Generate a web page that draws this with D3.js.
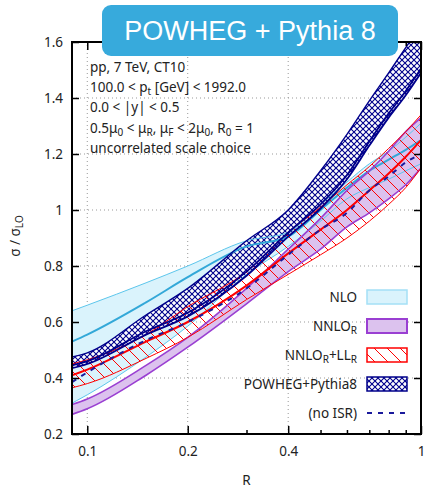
<!DOCTYPE html>
<html lang="en">
<head>
  <meta charset="UTF-8" />
  <title>POWHEG + Pythia 8</title>
  <style>
    body { margin: 0; background: #fff; }
    svg text { font-family: "Noto Sans", sans-serif; font-size: 13.5px; fill: #222; }
    .grid line { stroke: #999; stroke-width: 1; stroke-dasharray: 1,3; }
    .axis path { display: none; }
    .axis line { stroke: #000; stroke-width: 1.5px; }
    .title text { font-family: "Liberation Sans", Arial, sans-serif; font-size: 27px; fill: #fff; }
  </style>
  <script src="https://d3js.org/d3.v7.min.js"></script>
</head>
<body>
  <div id="chart"></div>
  <script type="text/javascript">
    // jet radius values
    const R = [0.09, 0.1, 0.15, 0.2, 0.3, 0.4, 0.5, 0.6, 0.7, 0.8, 0.9, 1.0];

    // NLO band
    const nloLo  = [0.31, 0.34, 0.475, 0.585, 0.77, 0.87, 0.96, 1.04, 1.08, 1.11, 1.14, 1.165];
    const nloMid = [0.53, 0.555, 0.67, 0.76, 0.87, 0.905, 1.0, 1.08, 1.14, 1.18, 1.215, 1.25];
    const nloHi  = [0.64, 0.66, 0.74, 0.80, 0.89, 0.92, 1.02, 1.10, 1.165, 1.21, 1.26, 1.31];

    // NNLO_R band
    const nnloLo = [0.27, 0.29, 0.41, 0.51, 0.665, 0.78, 0.86, 0.94, 0.99, 1.04, 1.09, 1.15];
    const nnloHi = [0.305, 0.325, 0.445, 0.545, 0.72, 0.86, 0.97, 1.07, 1.14, 1.21, 1.28, 1.33];

    // NNLO_R + LL_R band
    const llLo  = [0.365, 0.38, 0.47, 0.545, 0.68, 0.77, 0.84, 0.90, 0.96, 1.02, 1.08, 1.15];
    const llMid = [0.41, 0.43, 0.53, 0.60, 0.73, 0.845, 0.93, 1.0, 1.07, 1.13, 1.19, 1.25];
    const llHi  = [0.45, 0.465, 0.555, 0.655, 0.78, 0.92, 1.01, 1.09, 1.155, 1.22, 1.28, 1.34];

    // POWHEG + Pythia8 band
    const powLo  = [0.435, 0.45, 0.555, 0.62, 0.765, 0.905, 1.005, 1.11, 1.23, 1.33, 1.41, 1.49];
    const powMid = [0.445, 0.46, 0.567, 0.633, 0.78, 0.92, 1.02, 1.125, 1.245, 1.345, 1.425, 1.505];
    const powHi  = [0.475, 0.49, 0.625, 0.72, 0.89, 1.0, 1.14, 1.27, 1.39, 1.49, 1.58, 1.66];

    // POWHEG without ISR
    const noIsr = [0.385, 0.42, 0.535, 0.60, 0.72, 0.84, 0.93, 0.99, 1.07, 1.12, 1.17, 1.2];

    const xMajor = [0.1, 0.2, 0.4, 1];
    const xMinor = [0.3, 0.5, 0.6, 0.7, 0.8, 0.9];
    const yTicks = [0.2, 0.4, 0.6, 0.8, 1.0, 1.2, 1.4, 1.6];
    const infoLines = [
      ["pp, 7 TeV, CT10"],
      ["100.0 < p", ["t"], " [GeV] < 1992.0"],
      ["0.0 < |y| < 0.5"],
      ["0.5μ", ["0"], " < μ", ["R"], ", μ", ["F"], " < 2μ", ["0"], ", R", ["0"], " = 1"],
      ["uncorrelated scale choice"]
    ];

    const W = 427, H = 488;
    const margin = { top: 42, right: 6, bottom: 54, left: 72 };
    const x = d3.scaleLog().domain([0.09, 1]).range([margin.left, W - margin.right]);
    const y = d3.scaleLinear().domain([0.2, 1.6]).range([H - margin.bottom, margin.top]);
    const x0 = margin.left, x1 = W - margin.right, y0 = H - margin.bottom, y1 = margin.top;

    const svg = d3.select("#chart").append("svg")
      .attr("width", W).attr("height", H);

    const defs = svg.append("defs");
    defs.append("clipPath").attr("id", "plotclip")
      .append("rect").attr("x", x0).attr("y", y1).attr("width", x1 - x0).attr("height", y0 - y1);

    const xh = defs.append("pattern").attr("id", "xhatch")
      .attr("patternUnits", "userSpaceOnUse").attr("width", 6).attr("height", 6);
    xh.append("rect").attr("width", 6).attr("height", 6).attr("fill", "#fff");
    xh.append("path").attr("d", "M0,0L6,6M6,0L0,6")
      .attr("stroke", "#00008b").attr("stroke-width", 1.1);

    const rh = defs.append("pattern").attr("id", "rhatch")
      .attr("patternUnits", "userSpaceOnUse").attr("width", 13).attr("height", 13);
    rh.append("path").attr("d", "M0,0L13,13M-2,11L2,15M11,-2L15,2")
      .attr("stroke", "#ff0000").attr("stroke-width", 1);

    // text with subscripts, parts = strings or [sub]
    function richText(t, parts) {
      let down = false;
      parts.forEach(p => {
        if (Array.isArray(p)) {
          t.append("tspan").attr("dy", down ? 0 : 3).attr("font-size", "10px").text(p[0]);
          down = true;
        } else {
          t.append("tspan").attr("dy", down ? -3 : 0).text(p);
          down = false;
        }
      });
    }

    // grid
    const grid = svg.append("g").attr("class", "grid");
    grid.selectAll(".gx").data([0.1, 0.2, 0.4]).enter().append("line")
      .attr("x1", d => x(d)).attr("x2", d => x(d)).attr("y1", y0).attr("y2", y1);
    grid.selectAll(".gy").data([0.4, 0.6, 0.8, 1.0, 1.2, 1.4]).enter().append("line")
      .attr("x1", x0).attr("x2", x1).attr("y1", d => y(d)).attr("y2", d => y(d));

    const idx = d3.range(R.length);
    const band = (lo, hi) => d3.area()
      .x(i => x(R[i])).y0(i => y(lo[i])).y1(i => y(hi[i]))
      .curve(d3.curveMonotoneX)(idx);
    const line = v => d3.line()
      .x(i => x(R[i])).y(i => y(v[i]))
      .curve(d3.curveMonotoneX)(idx);

    const plot = svg.append("g").attr("clip-path", "url(#plotclip)");

    // NLO
    plot.append("path").attr("d", band(nloLo, nloHi)).attr("fill", "#daf3fc");
    // NNLO_R fill
    plot.append("path").attr("d", band(nnloLo, nnloHi)).attr("fill", "#dcc2ee");
    // POWHEG crosshatch
    plot.append("path").attr("d", band(powLo, powHi)).attr("fill", "url(#xhatch)");
    // NLO lines
    [nloLo, nloHi].forEach(v => plot.append("path").attr("d", line(v))
      .attr("fill", "none").attr("stroke", "#5cc6ec").attr("stroke-width", 1));
    plot.append("path").attr("d", line(nloMid))
      .attr("fill", "none").attr("stroke", "#33a8d8").attr("stroke-width", 2);
    // NNLO_R + LL_R hatch
    plot.append("path").attr("d", band(llLo, llHi)).attr("fill", "url(#rhatch)");
    // NNLO_R edges
    [nnloLo, nnloHi].forEach(v => plot.append("path").attr("d", line(v))
      .attr("fill", "none").attr("stroke", "#9a3fd2").attr("stroke-width", 1.6));
    // red edges and centre
    [llLo, llHi].forEach(v => plot.append("path").attr("d", line(v))
      .attr("fill", "none").attr("stroke", "#ff0000").attr("stroke-width", 1));
    plot.append("path").attr("d", line(llMid))
      .attr("fill", "none").attr("stroke", "#ff0000").attr("stroke-width", 2);
    // POWHEG edges
    plot.append("path").attr("d", line(powHi))
      .attr("fill", "none").attr("stroke", "#00008b").attr("stroke-width", 1.4);
    [powLo, powMid].forEach(v => plot.append("path").attr("d", line(v))
      .attr("fill", "none").attr("stroke", "#00008b").attr("stroke-width", 1.8));
    // no ISR
    plot.append("path").attr("d", line(noIsr))
      .attr("fill", "none").attr("stroke", "#1a1a9c").attr("stroke-width", 2)
      .attr("stroke-dasharray", "5,6");

    // axes
    const fmt = d => String(+d.toFixed(1));
    svg.append("g").attr("class", "axis").attr("transform", `translate(0,${y0})`)
      .call(d3.axisBottom(x).tickValues(xMajor).tickSize(-8).tickPadding(12).tickFormat(fmt));
    svg.append("g").attr("class", "axis").attr("transform", `translate(0,${y0})`)
      .call(d3.axisBottom(x).tickValues(xMinor).tickSize(-4).tickFormat(""));
    svg.append("g").attr("class", "axis").attr("transform", `translate(0,${y1})`)
      .call(d3.axisTop(x).tickValues(xMajor).tickSize(-8).tickFormat(""));
    svg.append("g").attr("class", "axis").attr("transform", `translate(0,${y1})`)
      .call(d3.axisTop(x).tickValues(xMinor).tickSize(-4).tickFormat(""));
    svg.append("g").attr("class", "axis").attr("transform", `translate(${x0},0)`)
      .call(d3.axisLeft(y).tickValues(yTicks).tickSize(-7).tickPadding(9).tickFormat(fmt));
    svg.append("g").attr("class", "axis").attr("transform", `translate(${x1},0)`)
      .call(d3.axisRight(y).tickValues(yTicks).tickSize(-7).tickFormat(""));
    svg.selectAll(".axis text").attr("font-size", null).attr("font-family", null)
      .style("fill", "#222");

    svg.append("rect").attr("x", x0).attr("y", y1)
      .attr("width", x1 - x0).attr("height", y0 - y1)
      .attr("fill", "none").attr("stroke", "#000").attr("stroke-width", 2);

    // axis labels
    svg.append("text").attr("x", (x0 + x1) / 2).attr("y", 485)
      .attr("text-anchor", "middle").text("R");
    const yl = svg.append("text").attr("transform", `translate(20,236) rotate(-90)`)
      .attr("text-anchor", "middle");
    richText(yl, ["σ / σ", ["LO"]]);

    // info text
    const info = svg.append("g");
    infoLines.forEach((parts, i) => {
      richText(info.append("text").attr("x", 90).attr("y", 72 + i * 20.2), parts);
    });

    // legend
    const legend = [
      { label: ["NLO"], fill: "#daf3fc", stroke: "#a4e0f6", sw: 1.5 },
      { label: ["NNLO", ["R"]], fill: "#dcc2ee", stroke: "#9a3fd2", sw: 2 },
      { label: ["NNLO", ["R"], "+LL", ["R"]], fill: "url(#rhatch)", stroke: "#ff0000", sw: 1.5 },
      { label: ["POWHEG+Pythia8"], fill: "url(#xhatch)", stroke: "#00008b", sw: 1.5 },
      { label: ["(no ISR)"], dash: true }
    ];
    const lg = svg.append("g");
    legend.forEach((d, i) => {
      const cy = 297 + i * 29;
      richText(lg.append("text").attr("x", 357).attr("y", cy + 5).attr("text-anchor", "end"), d.label);
      if (d.dash) {
        lg.append("line").attr("x1", 367).attr("x2", 407).attr("y1", cy).attr("y2", cy)
          .attr("stroke", "#1a1a9c").attr("stroke-width", 2).attr("stroke-dasharray", "5,6");
      } else {
        lg.append("rect").attr("x", 367).attr("y", cy - 7).attr("width", 40).attr("height", 14)
          .attr("fill", d.fill).attr("stroke", d.stroke).attr("stroke-width", d.sw);
      }
    });

    // title box
    const title = svg.append("g").attr("class", "title");
    title.append("rect").attr("x", 102).attr("y", 5).attr("width", 296).attr("height", 51)
      .attr("rx", 9).attr("fill", "#37aadc");
    title.append("text").attr("x", 250).attr("y", 40).attr("text-anchor", "middle")
      .text("POWHEG + Pythia 8");
  </script>
</body>
</html>
